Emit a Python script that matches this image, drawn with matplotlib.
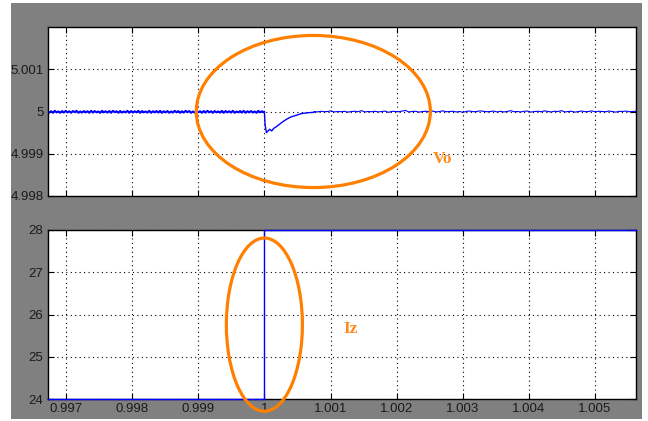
import numpy as np
import matplotlib
matplotlib.use("Agg")
import matplotlib.pyplot as plt
from matplotlib.patches import Ellipse, Rectangle

# ---- data ----
x_min, x_max = 0.99672, 1.00562
x_ticks = [0.997, 0.998, 0.999, 1.0, 1.001, 1.002, 1.003, 1.004, 1.005]
x_tick_labels = ["0.997", "0.998", "0.999", "1", "1.001", "1.002", "1.003", "1.004", "1.005"]

vo_ticks = [4.998, 4.999, 5.0, 5.001]
vo_tick_labels = ["4.998", "4.999", "5", "5.001"]
iz_ticks = [24, 25, 26, 27, 28]

# Vo before the load step: noisy band around 5 (deviations in 1e-5 V)
vo_pre_dev = [1, -2.5, 0.5, -3, 1.5, -2, 0, -3, 1, -2.5, 1.5, -2, 0.5, -3, 1, -1.5,
              1.5, -3, 0, -2.5, 1, -2, 0.5, -3, 1.5, -2.5, 1, -2, 0, -3, 1.5, -2,
              0.5, -2.5, 1, -3, 1.5, -1.5, 0.5, -3, 1, -2.5, 0, -2, 1.5, -3, 1, -2.5,
              0.5, -2, 1.5, -3, 1, -2, 0, -2.5, 1.5, -3, 0.5, -2, 1, -2.5, 1.5, -3,
              0.5, -2, 1, -3, 0, -2.5, 1.5, -2, 1, -3, 0.5, -2.5, 1.5, -1.5, 1, -3,
              0, -2.5, 1.5, -2, 0.5, -3, 1, -2.5, 1.5, -2, 0.5, -3, 1, -2, 0, -2.5,
              1.5, -3, 1, -2, 0.5, -2.5, 1.5, -3, 0, -2, 1, -2.5, 1.5, -3, 0.5, -2,
              1, -2.5, 0, -3, 1.5, -2, 0.5, -1.5]
# Vo transient after the step at t = 1
vo_tr_t = [1.0, 1.00001, 1.00003, 1.00005, 1.00008, 1.00011, 1.00014, 1.00018, 1.00023,
           1.00028, 1.00034, 1.00040, 1.00048, 1.00056, 1.00065, 1.00075]
vo_tr_v = [5.0, 4.99970, 4.99950, 4.99953, 4.99958, 4.99954, 4.99960, 4.99964, 4.99970,
           4.99976, 4.99982, 4.99987, 4.99991, 4.99995, 4.99997, 4.99998]
# Vo after recovery (deviations in 1e-5 V)
vo_post_dev = [0, -1, 0.5, -0.5, 0, 1.5, -1, 0, -0.5, 0.5, -1.5, 0, 0.5, -0.5, 2, -1,
               0, -0.5, 0.5, -1, 0, 1, -2, 0.5, 0, -0.5, 1, 2.5, -1, 0, 0.5, -1.5,
               0, 0.5, -0.5, 1, -1, 0, 1.5, -0.5, 0, 0.5, -1, 0, -2, 0.5, 1, -0.5,
               0, 1.5, 0.5, -0.5, 0, 1, -1, 0.5, -1, 0, 2, -0.5, 0, -1, 0.5, 1,
               -1.5, 0, 0.5, -0.5, 1.5, 0, -1, 0.5, 0, 2, -1, 0, 0.5, -1.5, 0, 1,
               -0.5, 0, 1.5, -1, 0.5, 0, -0.5, 1, 0, -1.5, 0.5, 0, 1, -0.5, 0, 0.5]

# Iz: step from 24 to 28 at t = 1
iz_t = [x_min, 1.0, 1.0, x_max]
iz_v = [24, 24, 28, 28]

# ---- figure ----
W, H = 648, 421
fig = plt.figure(figsize=(W / 100, H / 100), dpi=100)
fig.patch.set_facecolor("white")
fig.patches.append(Rectangle((11 / W, 1 - 419 / H), (642 - 11) / W, (419 - 3) / H,
                             transform=fig.transFigure, facecolor="#808080",
                             edgecolor="none", zorder=-10))

left = 47.5 / W
width = (636 - 47.5) / W
ax1 = fig.add_axes([left, 1 - 196 / H, width, 169 / H])
ax2 = fig.add_axes([left, 1 - 399 / H, width, 169 / H])

label_color = "#1a1a1a"
for ax in (ax1, ax2):
    ax.set_facecolor("white")
    ax.set_xlim(x_min, x_max)
    ax.set_xticks(x_ticks)
    ax.grid(True, color="black", linestyle=(0, (1, 3)), linewidth=0.8)
    ax.tick_params(direction="in", length=4, width=0.8, top=True, right=True,
                   labelsize=9.5, labelcolor=label_color, color="black", pad=3)
    for s in ax.spines.values():
        s.set_color("black")
        s.set_linewidth(1.0)

# top: Vo
ax1.set_ylim(4.998, 5.002)
ax1.set_yticks(vo_ticks)
ax1.set_yticklabels(vo_tick_labels, family="Liberation Sans")
ax1.set_xticklabels([])
t_pre = np.linspace(x_min, 0.99999, len(vo_pre_dev))
ax1.plot(t_pre, 5.0 + np.array(vo_pre_dev) * 1e-5, color="blue", lw=1.5)
ax1.plot(vo_tr_t, vo_tr_v, color="blue", lw=1.0)
t_post = np.linspace(1.00075, x_max, len(vo_post_dev))
ax1.plot(t_post, 5.0 + np.array(vo_post_dev) * 1e-5, color="blue", lw=0.8)

# bottom: Iz
ax2.set_ylim(24, 28)
ax2.set_yticks(iz_ticks)
ax2.set_xticklabels(x_tick_labels, family="Liberation Sans")
for lab in ax2.get_yticklabels():
    lab.set_family("Liberation Sans")
ax2.plot(iz_t, iz_v, color="blue", lw=1.0, clip_on=False, zorder=5)

# orange annotations
orange = "#ff8000"
ax1.add_patch(Ellipse((1.00074, 5.0), 0.00354, 0.0036, fill=False,
                      edgecolor=orange, lw=2.3, clip_on=False, zorder=6))
ax2.add_patch(Ellipse((1.0, 25.76), 0.00115, 4.1, fill=False,
                      edgecolor=orange, lw=2.3, clip_on=False, zorder=6))
fig.text(443 / W, 1 - 159 / H, "Vo", color="#ff8a20", fontsize=12.5, fontweight="bold",
         family="Liberation Serif", ha="center", va="center")
fig.text(351 / W, 1 - 329 / H, "Iz", color="#ff8a20", fontsize=12.5, fontweight="bold",
         family="Liberation Serif", ha="center", va="center")

fig.savefig("out.png", dpi=100, facecolor=fig.get_facecolor())
